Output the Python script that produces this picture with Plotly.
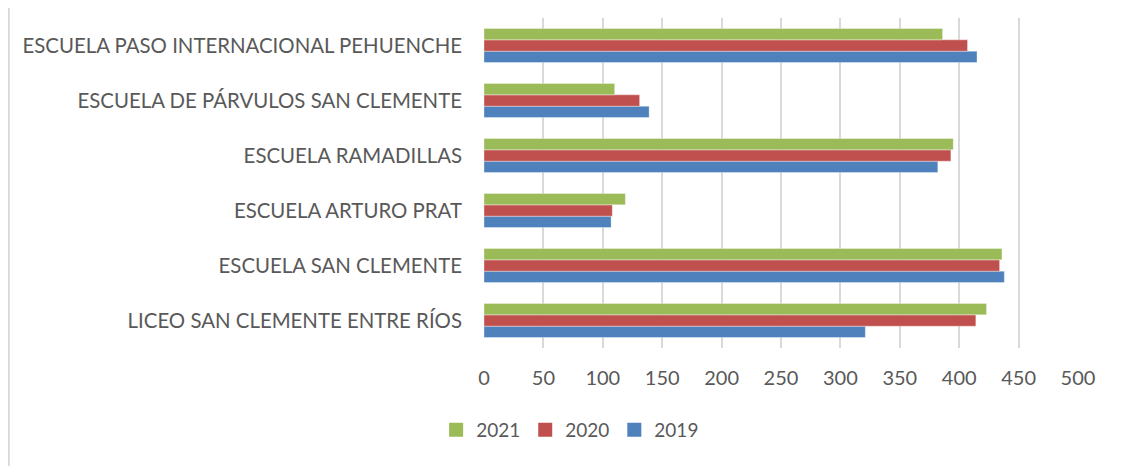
import plotly.graph_objects as go

# ── Data ──────────────────────────────────────────────────────────────────────
schools = [
    "LICEO SAN CLEMENTE ENTRE RÍOS",
    "ESCUELA SAN CLEMENTE",
    "ESCUELA ARTURO PRAT",
    "ESCUELA RAMADILLAS",
    "ESCUELA DE PÁRVULOS SAN CLEMENTE",
    "ESCUELA PASO INTERNACIONAL PEHUENCHE",
]
vals_2019 = [321, 438, 107, 382, 139, 415]
vals_2020 = [414, 434, 108, 393, 131, 407]
vals_2021 = [423, 436, 119, 395, 110, 386]
x_ticks = [0, 50, 100, 150, 200, 250, 300, 350, 400, 450, 500]

series = [
    ("2019", vals_2019, "#4F81BD"),
    ("2020", vals_2020, "#C0504D"),
    ("2021", vals_2021, "#9BBB59"),
]

FONT = "Lato"
GREY = "#595959"

fig = go.Figure()
for name, vals, color in series:
    fig.add_trace(
        go.Bar(
            x=vals,
            y=schools,
            name=name,
            orientation="h",
            showlegend=False,
            marker=dict(color=color, line=dict(color="rgba(255,255,255,0.35)", width=1)),
        )
    )

# legend entries with larger square swatches, Excel style
for name, _, color in series:
    fig.add_trace(
        go.Scatter(
            x=[None],
            y=[None],
            mode="markers",
            name=name,
            marker=dict(symbol="square", size=14, color=color),
        )
    )

fig.update_layout(
    width=1123,
    height=466,
    barmode="group",
    bargap=0.38,
    bargroupgap=0,
    plot_bgcolor="white",
    paper_bgcolor="white",
    font=dict(family=FONT, color=GREY, size=19),
    margin=dict(l=476, r=53, t=10, b=126),
    showlegend=True,
    legend=dict(
        orientation="h",
        traceorder="reversed",
        x=0.145,
        xanchor="center",
        y=-0.248,
        yanchor="middle",
        font=dict(size=19, color=GREY),
        itemwidth=30,
    ),
    xaxis=dict(
        range=[0, 500],
        tickvals=x_ticks,
        showgrid=True,
        gridcolor="#D9D9D9",
        gridwidth=1.5,
        zeroline=False,
        showline=False,
        ticklabelstandoff=16,
        tickfont=dict(size=20, color=GREY),
        fixedrange=True,
    ),
    yaxis=dict(
        showgrid=False,
        zeroline=False,
        showline=False,
        ticklabelstandoff=21,
        tickfont=dict(size=20.4, color=GREY),
        fixedrange=True,
    ),
    shapes=[
        dict(
            type="line",
            xref="paper",
            yref="paper",
            x0=-0.80, x1=-0.80,
            y0=-0.5, y1=1.1,
            line=dict(color="#D9D9D9", width=2),
        )
    ],
)

fig.write_html("out.html")
